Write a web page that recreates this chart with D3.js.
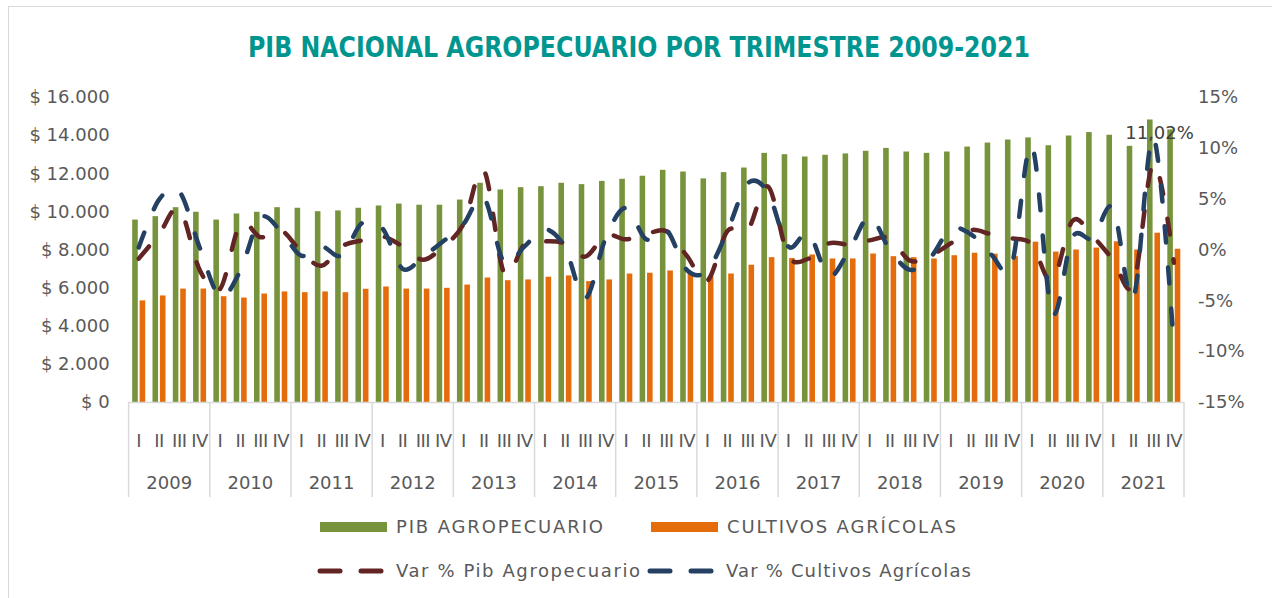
<!doctype html>
<html lang="es">
<head>
<meta charset="UTF-8">
<title>PIB Nacional Agropecuario por trimestre</title>
<style>
  body { margin: 0; background: #fff; }
  svg text { font-family: "Century Gothic", "DejaVu Sans", sans-serif; fill: #595959; }
</style>
</head>
<body>
<svg id="chart"></svg>
<script src="https://cdn.jsdelivr.net/npm/d3@7/dist/d3.min.js"></script>
<script>
const years = ['2009','2010','2011','2012','2013','2014','2015','2016','2017','2018','2019','2020','2021'];
const quarters = ['I','II','III','IV'];

// miles de millones
const pibAgro = [9570, 9750, 10220, 9980, 9570, 9890, 9980, 10220, 10190, 10010, 10050, 10190,
  10310, 10410, 10350, 10350, 10620, 11500, 11150, 11270, 11320, 11500, 11430, 11600,
  11710, 11870, 12180, 12090, 11730, 12060, 12300, 13070, 13000, 12880, 12970, 13040,
  13180, 13330, 13140, 13070, 13140, 13400, 13610, 13770, 13880, 13470, 13980, 14160,
  14020, 13440, 14820, 14300];
const cultivos = [5330, 5590, 5950, 5950, 5550, 5480, 5690, 5800, 5760, 5800, 5760, 5940,
  6060, 5950, 5950, 5990, 6160, 6530, 6390, 6430, 6570, 6640, 6340, 6430,
  6740, 6780, 6900, 6740, 6600, 6740, 7200, 7600, 7550, 7740, 7530, 7530,
  7790, 7650, 7600, 7530, 7700, 7830, 7780, 7650, 8410, 7890, 8000, 8100,
  8430, 8000, 8880, 8040];
const varPib = [-0.9, 1.5, 4.0, -2.0, -3.9, 2.5, 1.2, 1.9, -0.2, -1.6, 0.3, 0.9,
  1.3, 0.3, -1.0, 0.3, 2.5, 7.8, -2.3, 0.5, 0.8, 0.6, -0.7, 1.4,
  1.0, 1.5, 1.8, -0.6, -3.1, 1.8, 1.9, 6.2, -0.6, -0.9, 0.6, 0.5,
  0.9, 1.1, -1.1, -0.6, 0.6, 1.9, 1.5, 1.1, 0.5, -3.1, 2.8, 1.3,
  -1.0, -3.5, 8.5, -1.3];
const varCult = [0.2, 4.9, 5.7, 0.2, -4.6, -2.1, 3.1, 1.8, -0.6, 0.3, -0.6, 2.6,
  2.1, -1.9, -0.7, 0.8, 2.5, 5.1, -1.3, 0.3, 2.0, 0.2, -4.8, 1.1,
  4.1, 1.0, 1.9, -2.0, -2.1, 1.8, 6.5, 5.6, 0.3, 1.6, -2.6, -0.1,
  3.2, 0.0, -2.0, -0.8, 2.0, 1.5, -0.5, -1.6, 10.2, -6.2, 1.2, 1.1,
  4.1, -4.8, 11.02, -9.5];
const leftTicks = [0, 2000, 4000, 6000, 8000, 10000, 12000, 14000, 16000];
const rightTicks = [-15, -10, -5, 0, 5, 10, 15];

const width = 1272, height = 598;
const plot = {left: 128.6, right: 1184, top: 97, bottom: 402};

const svg = d3.select('#chart').attr('width', width).attr('height', height);

svg.append('rect')
   .attr('x', 8.5).attr('y', 6.5)
   .attr('width', 1300).attr('height', 600)
   .attr('fill', 'none').attr('stroke', '#d9d9d9');

svg.append('text')
   .attr('x', 639).attr('y', 57)
   .attr('text-anchor', 'middle')
   .attr('textLength', 782).attr('lengthAdjust', 'spacingAndGlyphs')
   .style('font-family', '"Liberation Sans Narrow", "Arial Narrow", "DejaVu Sans Condensed", sans-serif')
   .style('font-weight', 'bold').style('font-size', '28px').style('fill', '#00968f')
   .text('PIB NACIONAL AGROPECUARIO POR TRIMESTRE 2009-2021');

const idx = d3.range(pibAgro.length);
const x = d3.scaleBand().domain(idx).range([plot.left, plot.right]);
const xYear = d3.scaleBand().domain(years).range([plot.left, plot.right]);
const sub = d3.scaleBand().domain(['pib', 'cult']).range([3.6, 16.6]).paddingInner(0.25);
const y = d3.scaleLinear().domain([0, 16000]).range([plot.bottom, plot.top]);
const y2 = d3.scaleLinear().domain([-15, 15]).range([plot.bottom, plot.top]);

const loc = d3.formatLocale({decimal: ',', thousands: '.', grouping: [3], currency: ['$ ', '']});
const money = loc.format('$,.0f');

// ejes
const leftAxis = svg.append('g')
   .attr('transform', `translate(${plot.left},0)`)
   .call(d3.axisLeft(y).tickValues(leftTicks).tickFormat(money).tickSize(0).tickPadding(19));
const rightAxis = svg.append('g')
   .attr('transform', `translate(${plot.right},0)`)
   .call(d3.axisRight(y2).tickValues(rightTicks).tickFormat(d => d + '%').tickSize(0).tickPadding(14));
[leftAxis, rightAxis].forEach(g => {
  g.select('.domain').remove();
  g.selectAll('text').style('font-size', '18px').attr('fill', '#595959')
   .style('font-family', '"Century Gothic", "DejaVu Sans", sans-serif');
});

// barras
const bars = svg.append('g');
bars.selectAll('.pib')
    .data(pibAgro)
    .enter().append('rect')
    .attr('class', 'pib')
    .attr('x', (d, i) => x(i) + sub('pib'))
    .attr('y', d => y(d))
    .attr('width', sub.bandwidth())
    .attr('height', d => y(0) - y(d))
    .attr('fill', '#77933c');
bars.selectAll('.cult')
    .data(cultivos)
    .enter().append('rect')
    .attr('class', 'cult')
    .attr('x', (d, i) => x(i) + sub('cult'))
    .attr('y', d => y(d))
    .attr('width', sub.bandwidth())
    .attr('height', d => y(0) - y(d))
    .attr('fill', '#e46c0a');

// eje de categorias
const xg = svg.append('g');
xg.append('line')
  .attr('x1', plot.left).attr('x2', plot.right)
  .attr('y1', plot.bottom + 0.5).attr('y2', plot.bottom + 0.5)
  .attr('stroke', '#d9d9d9').attr('stroke-width', 1.5);
xg.selectAll('.sep')
  .data(years.map(yr => xYear(yr)).concat([plot.right]))
  .enter().append('line')
  .attr('class', 'sep')
  .attr('x1', d => d).attr('x2', d => d)
  .attr('y1', plot.bottom).attr('y2', 497)
  .attr('stroke', '#d9d9d9').attr('stroke-width', 1.5);
xg.selectAll('.q')
  .data(idx)
  .enter().append('text')
  .attr('class', 'q')
  .attr('x', i => x(i) + x.bandwidth() / 2)
  .attr('y', 447)
  .attr('text-anchor', 'middle')
  .style('font-size', '18px')
  .style('letter-spacing', '-0.5px')
  .text(i => quarters[i % 4]);
xg.selectAll('.yr')
  .data(years)
  .enter().append('text')
  .attr('class', 'yr')
  .attr('x', d => xYear(d) + xYear.bandwidth() / 2)
  .attr('y', 489)
  .attr('text-anchor', 'middle')
  .style('font-size', '18px')
  .text(d => d);

// lineas de variacion
const line = d3.line()
   .x((d, i) => x(i) + x.bandwidth() / 2)
   .y(d => y2(d))
   .curve(d3.curveCardinal.tension(0));

function drawVar(values, color) {
  svg.append('path')
     .datum(values)
     .attr('d', line)
     .attr('fill', 'none')
     .attr('stroke', color)
     .attr('stroke-width', 4.5)
     .attr('stroke-linecap', 'round')
     .attr('stroke-dasharray', '16,25');
}
drawVar(varPib, '#632523');
drawVar(varCult, '#244062');

const last = 50;
svg.append('text')
   .attr('x', x(last) + x.bandwidth() / 2 + 6)
   .attr('y', y2(varCult[last]) + 2)
   .attr('text-anchor', 'middle')
   .style('font-size', '18px').style('fill', '#404040')
   .text('11,02%');

// leyenda
const legendItems = [
  {label: 'PIB AGROPECUARIO', color: '#77933c', type: 'bar', x: 320, y: 527, w: 207},
  {label: 'CULTIVOS AGRÍCOLAS', color: '#e46c0a', type: 'bar', x: 651, y: 527, w: 229},
  {label: 'Var % Pib Agropecuario', color: '#632523', type: 'line', x: 320, y: 571, w: 244},
  {label: 'Var % Cultivos Agrícolas', color: '#244062', type: 'line', x: 650, y: 571, w: 245}
];
const legend = svg.append('g');
legendItems.forEach(it => {
  if (it.type === 'bar') {
    legend.append('rect')
          .attr('x', it.x).attr('y', it.y - 5)
          .attr('width', 67).attr('height', 10)
          .attr('fill', it.color);
  } else {
    [0, 41].forEach(off => {
      legend.append('line')
            .attr('x1', it.x + off).attr('x2', it.x + off + 20)
            .attr('y1', it.y).attr('y2', it.y)
            .attr('stroke', it.color).attr('stroke-width', 5)
            .attr('stroke-linecap', 'round');
    });
  }
  legend.append('text')
        .attr('x', it.x + 76).attr('y', it.y)
        .attr('dy', '0.35em')
        .attr('textLength', it.w).attr('lengthAdjust', 'spacing')
        .style('font-size', '18px')
        .text(it.label);
});
</script>
</body>
</html>
